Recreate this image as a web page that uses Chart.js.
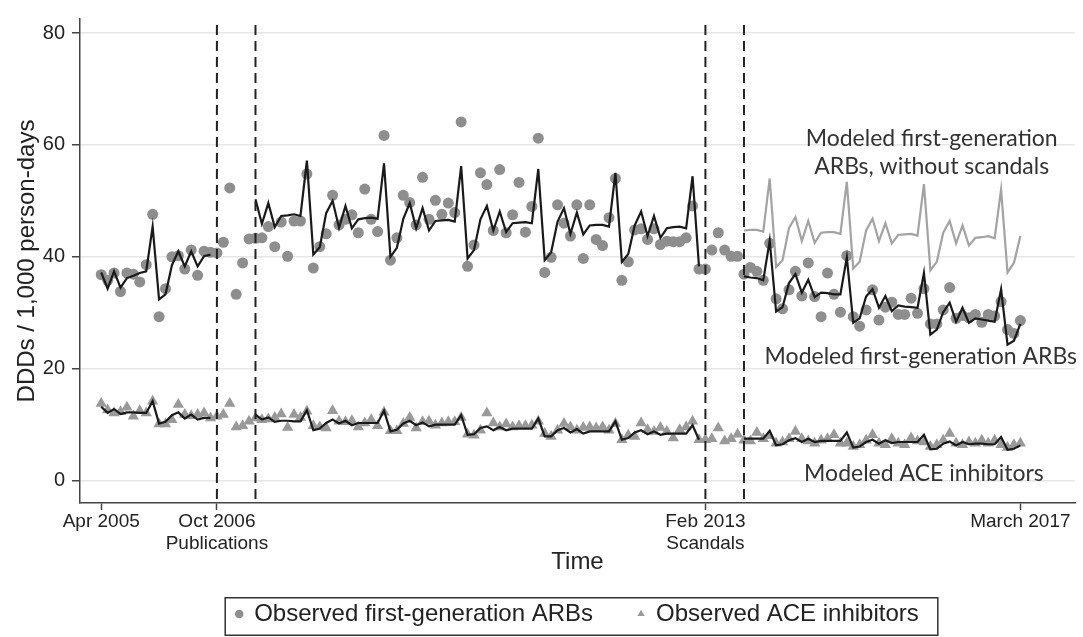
<!DOCTYPE html>
<html>
<head>
<meta charset="utf-8">
<script src="https://cdn.jsdelivr.net/npm/chart.js@4.4.1/dist/chart.umd.min.js"></script>
<style>
  html, body { margin: 0; padding: 0; background: #fff; }
  #wrap { width: 1083px; height: 637px; position: relative; }
</style>
</head>
<body>
<div id="wrap"><canvas id="myChart"></canvas></div>
<script>
// months are counted from Apr 2005 (0) to March 2017 (143)
const tickMonths = [0, 18, 94, 143];
const tickLabels = ['Apr 2005', ['Oct 2006', 'Publications'], ['Feb 2013', 'Scandals'], 'March 2017'];
const interruptionMonths = [18, 24, 94, 100];
const yTicks = [0, 20, 40, 60, 80];

const observedARB = [
  36.8, 35.8, 37.1, 33.8, 37.1, 36.9, 35.5, 38.6, 47.6, 29.3, 34.3, 40.0,
  40.2, 37.8, 41.2, 36.7, 41.0, 40.8, 40.7, 42.6, 52.3, 33.3, 38.9, 43.2,
  43.3, 43.4, 45.4, 41.8, 46.2, 40.1, 46.4, 46.4, 54.8, 38.0, 41.8, 44.1,
  51.0, 45.7, 46.7, 47.5, 44.3, 52.1, 46.7, 44.5, 61.7, 39.4, 43.4, 51.0,
  49.7, 45.7, 54.2, 46.7, 50.1, 47.6, 49.6, 47.9, 64.1, 38.3, 42.1, 55.0,
  52.9, 44.7, 55.6, 44.3, 47.5, 53.3, 44.4, 49.0, 61.2, 37.2, 39.9, 49.3,
  46.0, 43.7, 49.3, 39.7, 49.3, 43.1, 42.0, 47.0, 54.0, 35.8, 39.1, 44.8,
  45.0, 43.1, 45.0, 42.2, 42.8, 42.7, 42.7, 43.4, 49.1, 37.8, 37.8, 41.2,
  44.3, 41.2, 40.1, 40.1, 36.9, 38.1, 37.4, 35.8, 42.4, 32.5, 30.7, 34.1,
  37.4, 33.0, 38.9, 32.9, 29.3, 37.1, 33.3, 30.1, 40.2, 29.3, 27.6, 30.5,
  34.1, 28.7, 31.0, 31.9, 29.7, 29.7, 32.6, 29.9, 34.3, 28.0, 28.0, 30.5,
  34.5, 29.0, 29.5, 29.1, 29.7, 28.3, 29.7, 29.4, 32.0, 27.0, 26.3, 28.6
];

const observedACE = [
  13.8, 12.6, 12.1, 12.3, 13.1, 11.5, 12.5, 12.1, 14.2, 10.1, 10.1, 10.9,
  13.6, 11.8, 11.6, 11.8, 12.1, 11.2, 11.5, 11.8, 13.8, 9.6, 9.8, 10.6,
  11.2, 10.9, 11.0, 11.3, 11.9, 9.5, 11.8, 11.3, 12.4, 9.8, 9.6, 9.4,
  12.5, 10.6, 10.5, 10.7, 9.6, 10.3, 10.9, 9.8, 12.2, 8.9, 8.9, 10.2,
  11.3, 9.4, 10.5, 10.6, 9.9, 10.3, 10.5, 10.5, 11.3, 8.3, 8.1, 9.0,
  12.1, 10.3, 9.6, 10.1, 9.6, 9.8, 9.8, 9.9, 10.6, 8.4, 7.9, 9.0,
  10.2, 9.6, 9.0, 9.5, 9.6, 9.4, 9.6, 9.0, 10.2, 7.3, 8.1, 7.9,
  10.3, 9.1, 8.8, 9.5, 8.8, 7.6, 9.1, 9.6, 10.6, 7.3, 7.3, 7.5,
  9.4, 7.1, 7.5, 8.3, 7.2, 7.1, 8.6, 7.5, 8.0, 6.7, 6.9, 7.5,
  8.8, 7.5, 7.1, 6.7, 7.2, 7.5, 8.2, 6.7, 6.7, 6.1, 6.4, 7.2,
  8.2, 6.7, 6.4, 7.5, 6.7, 6.4, 7.6, 7.1, 6.9, 6.1, 6.4, 7.2,
  8.4, 6.7, 6.4, 6.9, 6.7, 7.2, 6.7, 7.2, 6.4, 5.9, 6.4, 6.7
];

const modeledARB = [
  37.2, 34.3, 37.4, 34.5, 36.2, 36.6, 37.1, 37.4, 45.4, 32.4, 33.3, 38.5,
  41.0, 38.3, 41.0, 38.3, 40.1, 40.4, null, null, null, null, null, null,
  50.3, 45.9, 49.6, 45.3, 47.3, 47.4, 47.6, 47.3, 57.2, 40.4, 41.7, 47.8,
  50.0, 45.2, 49.1, 45.1, 46.7, 46.9, 47.0, 46.8, 56.7, 40.0, 41.6, 46.8,
  49.6, 45.1, 48.7, 44.7, 46.4, 46.5, 46.6, 46.3, 56.2, 39.7, 41.2, 46.7,
  49.1, 44.7, 48.1, 44.4, 46.0, 46.1, 46.2, 46.0, 55.7, 39.4, 40.8, 46.3,
  48.7, 44.1, 47.9, 44.0, 45.6, 45.7, 45.7, 45.4, 55.0, 39.1, 40.5, 45.6,
  48.1, 43.7, 47.3, 43.4, 45.1, 45.3, 45.4, 45.1, 54.4, 38.3, null, null,
  null, null, null, null, 36.5, 36.3, 36.2, 35.8, 42.9, 30.2, 31.0, 35.3,
  36.9, 33.6, 35.9, 32.8, 33.6, 33.5, 33.3, 33.3, 39.9, 28.2, 29.0, 32.9,
  34.2, 30.9, 33.0, 30.3, 31.3, 31.1, 31.0, 30.9, 37.1, 26.1, 27.0, 30.1,
  31.8, 28.4, 30.9, 28.2, 29.0, 28.8, 28.6, 28.4, 34.2, 24.3, 25.0, 28.0
];

const modeledACE = [
  13.2, 12.1, 12.8, 11.9, 12.2, 12.2, 12.1, 12.1, 14.2, 10.2, 10.5, 11.7,
  12.2, 11.1, 11.8, 10.9, 11.2, 11.2, null, null, null, null, null, null,
  11.8, 10.9, 11.3, 10.5, 10.7, 10.7, 10.6, 10.6, 12.6, 9.0, 9.3, 10.3,
  10.9, 10.2, 10.7, 9.9, 10.3, 10.3, 10.3, 10.3, 12.5, 8.8, 9.1, 10.2,
  10.7, 9.9, 10.4, 9.7, 10.0, 10.0, 10.0, 10.0, 11.7, 8.2, 8.3, 9.4,
  9.7, 9.0, 9.6, 9.0, 9.3, 9.3, 9.3, 9.3, 11.1, 7.9, 7.9, 9.0,
  9.4, 8.6, 9.2, 8.4, 8.8, 8.8, 8.8, 8.8, 10.6, 7.3, 7.6, 8.6,
  9.0, 8.3, 8.8, 8.2, 8.4, 8.4, 8.4, 8.4, 9.9, 7.3, null, null,
  null, null, null, null, 7.5, 7.5, 7.5, 7.5, 8.9, 6.3, 6.5, 7.2,
  7.6, 6.9, 7.5, 6.9, 7.1, 7.1, 7.1, 7.1, 8.6, 5.9, 6.1, 6.9,
  7.3, 6.6, 7.2, 6.7, 6.9, 6.9, 6.9, 6.9, 8.2, 5.6, 5.7, 6.6,
  7.0, 6.3, 6.9, 6.5, 6.6, 6.6, 6.5, 6.5, 7.8, 5.5, 5.7, 6.3
];

// counterfactual (no scandals) starts at Aug 2013
const counterfactualStart = 100;
const counterfactualARB = [
  44.7, 44.8, 44.8, 44.5, 54.0, 38.2, 39.4, 45.1, 47.1, 42.8, 46.4, 42.5,
  44.3, 44.4, 44.4, 44.1, 53.4, 37.9, 39.1, 44.7, 46.8, 42.8, 46.0, 42.4,
  43.9, 44.0, 44.1, 43.8, 53.0, 37.6, 39.1, 44.3, 46.4, 42.4, 45.6, 42.0,
  43.4, 43.5, 43.7, 43.3, 52.0, 37.2, 38.9, 43.7
];

const notes = [
  { text: 'Modeled first-generation', x: 129.2, y: 61.1 },
  { text: 'ARBs, without scandals', x: 129.2, y: 56.1 },
  { text: 'Modeled first-generation ARBs', x: 127.5, y: 22.1 },
  { text: 'Modeled ACE inhibitors', x: 128, y: 1.2 }
];

const toPoints = (arr, start = 0) => arr.map((v, i) => ({ x: start + i, y: v }));

Chart.defaults.font.family = '"Liberation Sans", Arial, sans-serif';
Chart.defaults.color = '#222';

const interruptions = {
  id: 'interruptions',
  afterDatasetsDraw(chart) {
    const { ctx, chartArea, scales } = chart;
    ctx.save();
    ctx.strokeStyle = '#222';
    ctx.lineWidth = 2;
    ctx.setLineDash([10, 6]);
    interruptionMonths.forEach(m => {
      const x = scales.x.getPixelForValue(m);
      ctx.beginPath();
      ctx.moveTo(x, chartArea.top + 6);
      ctx.lineTo(x, chartArea.bottom);
      ctx.stroke();
    });
    ctx.restore();
  }
};

const labelsPlugin = {
  id: 'notes',
  afterDatasetsDraw(chart) {
    const { ctx, scales } = chart;
    ctx.save();
    ctx.font = '23px Lato, "Open Sans", sans-serif';
    ctx.fillStyle = '#333';
    ctx.textAlign = 'center';
    ctx.textBaseline = 'middle';
    notes.forEach(n => {
      ctx.fillText(n.text, scales.x.getPixelForValue(n.x), scales.y.getPixelForValue(n.y));
    });
    ctx.restore();
  }
};

const legendBox = {
  id: 'legendBox',
  afterDraw(chart) {
    const lg = chart.legend;
    if (!lg || !lg.legendHitBoxes || !lg.legendHitBoxes.length) return;
    const boxes = lg.legendHitBoxes;
    const first = boxes[0], last = boxes[boxes.length - 1];
    const { ctx } = chart;
    ctx.save();
    ctx.strokeStyle = '#333';
    ctx.lineWidth = 1.5;
    const l = first.left - 11, r = last.left + last.width + 19;
    ctx.strokeRect(l, lg.top + 0.75, r - l, lg.bottom - lg.top - 1.5);
    ctx.restore();
  }
};

new Chart(document.getElementById('myChart'), {
  type: 'line',
  data: {
    datasets: [
      {
        label: 'Observed first-generation ARBs',
        data: toPoints(observedARB),
        showLine: false,
        pointStyle: 'circle',
        pointRadius: 5.5,
        pointBorderWidth: 0,
        backgroundColor: '#8e8e8e',
        borderColor: '#8e8e8e',
        order: 3
      },
      {
        label: 'Observed ACE inhibitors',
        data: toPoints(observedACE),
        showLine: false,
        pointStyle: 'triangle',
        pointRadius: 6.5,
        pointBorderWidth: 0,
        backgroundColor: '#999999',
        borderColor: '#999999',
        order: 3
      },
      {
        label: 'Modeled first-generation ARBs',
        data: toPoints(modeledARB),
        borderColor: '#1a1a1a',
        borderWidth: 2.2,
        pointRadius: 0,
        spanGaps: false,
        order: 1
      },
      {
        label: 'Modeled ACE inhibitors',
        data: toPoints(modeledACE),
        borderColor: '#1a1a1a',
        borderWidth: 2.2,
        pointRadius: 0,
        spanGaps: false,
        order: 1
      },
      {
        label: 'Modeled first-generation ARBs, without scandals',
        data: toPoints(counterfactualARB, counterfactualStart),
        borderColor: '#a3a3a3',
        borderWidth: 2.2,
        pointRadius: 0,
        order: 2
      }
    ]
  },
  options: {
    responsive: true,
    maintainAspectRatio: false,
    animation: false,
    layout: { padding: { top: 7, right: 8, left: 0, bottom: 1 } },
    plugins: {
      tooltip: { enabled: false },
      legend: {
        position: 'bottom',
        fullSize: false,
        labels: {
          usePointStyle: true,
          boxWidth: 6,
          boxHeight: 6,
          padding: 5,
          color: '#222',
          font: { size: 24 },
          filter: item => item.text.startsWith('Observed'),
          sort: (a, b) => a.datasetIndex - b.datasetIndex,
          generateLabels(chart) {
            const items = Chart.defaults.plugins.legend.labels.generateLabels(chart);
            items.forEach(it => {
              if (it.datasetIndex === 0) it.text = it.text + '\u00a0\u00a0\u00a0\u00a0\u00a0\u00a0';
            });
            return items;
          }
        }
      }
    },
    scales: {
      x: {
        type: 'linear',
        min: -3.3,
        max: 151.5,
        afterBuildTicks: scale => { scale.ticks = tickMonths.map(v => ({ value: v })); },
        afterFit: scale => { scale.height = 94; },
        ticks: {
          autoSkip: false,
          maxRotation: 0,
          minRotation: 0,
          padding: 0,
          color: '#222',
          font: { size: 19, lineHeight: 1.2 },
          callback: value => tickLabels[tickMonths.indexOf(value)]
        },
        grid: { drawOnChartArea: false, tickLength: 7, tickColor: '#444', tickWidth: 1.5 },
        border: { color: '#444', width: 1.5 },
        title: { display: true, text: 'Time', color: '#222', font: { size: 24 }, padding: { top: 0, bottom: 20 } }
      },
      y: {
        min: -4,
        max: 82.5,
        afterBuildTicks: scale => { scale.ticks = yTicks.map(v => ({ value: v })); },
        afterFit: scale => { scale.width = 80; },
        ticks: { padding: 7, color: '#222', font: { size: 20 } },
        grid: { color: '#e6e6e6', lineWidth: 1.5, tickLength: 8, tickColor: '#444', tickWidth: 1.5 },
        border: { color: '#444', width: 1.5 },
        title: { display: true, text: 'DDDs / 1,000 person-days', color: '#222', font: { size: 24 }, padding: { top: 13, bottom: 0 } }
      }
    }
  },
  plugins: [interruptions, labelsPlugin, legendBox]
});
</script>
</body>
</html>
